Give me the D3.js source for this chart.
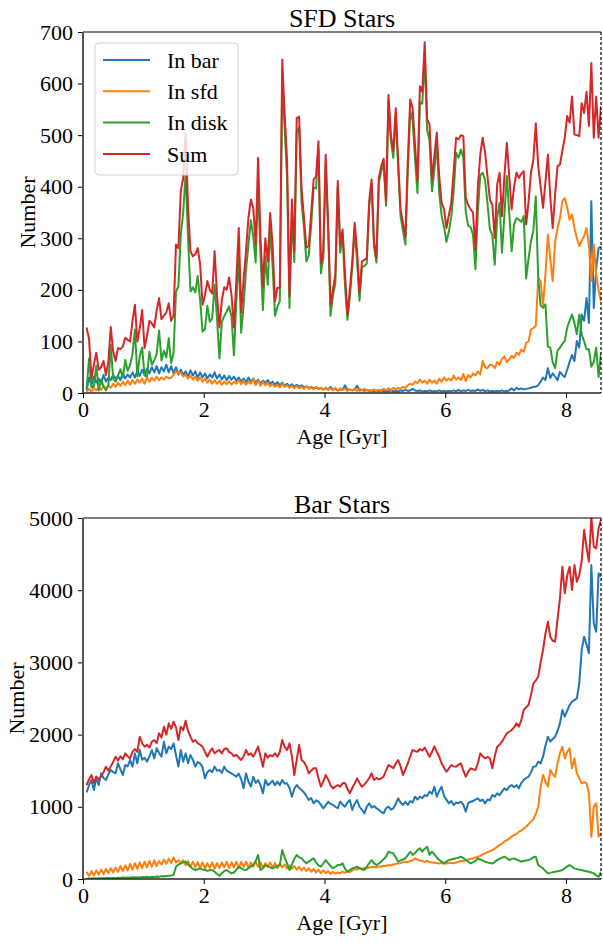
<!DOCTYPE html>
<html>
<head>
<meta charset="utf-8">
<script src="https://cdn.jsdelivr.net/npm/d3@7"></script>
<style>
  body { margin: 0; background: #fff; }
  svg text { font-family: "Liberation Serif", "Times New Roman", "DejaVu Serif", serif; fill: #000; }
</style>
</head>
<body>
<svg id="fig" width="603" height="943"></svg>
<script>
// Age bins (Gyr), 0.04 Gyr wide
const ageBins = d3.range(214).map(i => Math.round((0.06 + 0.04 * i) * 100) / 100);
const ageMax = 8.58;

const seriesNames = ["In bar", "In sfd", "In disk", "Sum"];
const seriesColors = ["#1f77b4", "#ff7f0e", "#2ca02c", "#d62728"];
const xTicks = [0, 2, 4, 6, 8];
const sfdYTicks = [0, 100, 200, 300, 400, 500, 600, 700];
const barYTicks = [0, 1000, 2000, 3000, 4000, 5000];

// ---- SFD stars: counts per age bin ----
const sfdInBar = [
  5,30,15,32,20,28,18,35,22,30,
  25,35,28,33,25,38,28,36,30,40,
  30,42,33,45,35,48,38,50,40,52,
  38,50,42,55,40,52,38,50,36,45,
  35,42,32,44,34,42,30,40,30,38,
  28,36,30,40,28,36,26,34,25,33,
  26,32,24,30,22,28,20,30,22,28,
  20,26,18,24,20,25,18,22,16,21,
  15,20,14,18,13,17,12,16,12,15,
  11,13,10,12,9,11,8,10,7,9,
  7,12,6,8,5,7,6,15,6,7,
  5,7,14,5,6,4,6,4,5,3,
  5,3,5,3,4,3,5,3,4,3,
  5,4,6,4,5,8,5,4,5,3,
  4,3,5,3,4,3,5,3,4,3,
  4,3,5,3,6,3,5,4,6,4,
  5,4,7,4,6,3,5,3,4,3,
  4,3,5,3,4,5,9,5,10,7,
  9,7,8,9,10,12,12,15,22,30,
  25,48,29,38,32,25,41,35,31,45,
  60,74,62,101,88,152,140,184,136,372,
  165,240,281,284
];
const sfdInSfd = [
  2,8,3,10,5,12,6,14,8,15,
  10,18,12,20,14,22,15,24,16,25,
  18,26,20,28,18,30,22,30,24,32,
  25,30,26,32,28,30,35,42,38,40,
  32,36,28,34,26,32,24,30,22,28,
  20,26,18,25,18,24,16,22,17,23,
  16,22,18,25,17,24,16,22,18,28,
  15,24,14,22,15,20,13,18,12,16,
  11,18,12,15,10,14,9,13,9,12,
  8,14,8,11,7,12,7,10,6,11,
  6,9,5,10,5,9,6,8,4,7,
  5,8,4,9,5,8,5,6,4,7,
  4,6,5,8,5,9,6,10,7,10,
  8,12,10,15,18,16,22,19,26,20,
  24,18,26,20,24,18,28,22,30,24,
  28,24,34,26,30,25,37,23,35,30,
  38,34,42,36,62,50,48,55,54,48,
  60,55,66,71,60,65,72,68,78,74,
  84,80,97,100,123,126,130,223,217,171,
  230,307,260,217,294,320,339,372,378,360,
  336,346,320,300,285,295,304,320,285,217,
  288,230,200,178
];
const sfdInDisk = [
  8,67,11,13,53,5,26,13,5,15,
  93,27,22,34,46,30,64,43,54,75,
  123,32,72,88,34,32,80,55,63,76,
  121,63,82,69,106,58,77,196,207,307,
  350,426,300,197,205,195,227,180,119,124,
  169,138,145,210,144,67,138,149,158,168,
  148,73,178,265,117,168,239,288,335,303,
  253,406,268,161,265,210,318,248,150,167,
  178,608,514,419,165,344,254,504,515,370,
  321,255,267,327,398,397,473,232,262,442,
  317,150,189,212,401,272,305,207,142,186,
  245,315,257,179,244,246,251,362,405,284,
  253,408,430,443,363,566,489,456,541,437,
  343,314,288,431,546,528,453,388,564,561,
  652,510,490,391,432,484,387,344,322,293,
  313,342,391,466,456,472,456,351,324,322,
  307,240,351,422,427,413,367,317,307,249,
  340,369,272,346,421,350,275,327,339,336,
  332,343,222,261,294,315,381,223,170,165,
  172,90,88,60,48,82,88,95,101,127,
  140,152,136,114,152,114,100,85,85,51,
  60,88,31,78
];
const sfdSum = [
  127,105,29,55,78,45,50,62,35,60,
  128,80,62,87,85,90,107,103,100,140,
  171,100,125,161,87,110,140,135,127,160,
  184,143,150,156,174,140,150,288,281,392,
  417,504,360,275,265,269,281,250,171,190,
  217,200,193,275,190,127,180,205,200,224,
  190,127,220,320,156,220,275,340,375,359,
  288,456,300,207,300,255,349,288,178,204,
  204,646,540,452,188,375,275,533,536,397,
  340,282,285,350,414,420,488,252,275,462,
  330,171,200,230,411,288,317,230,152,200,
  255,330,275,193,255,258,262,372,414,294,
  262,417,440,454,372,578,500,469,552,450,
  356,330,304,450,569,552,480,411,595,584,
  680,531,521,414,460,505,420,369,356,320,
  345,369,430,495,492,500,498,378,365,356,
  350,278,400,462,495,466,420,375,365,300,
  404,427,343,420,485,420,356,400,427,417,
  425,430,327,370,427,453,523,440,400,359,
  410,462,380,320,385,440,443,470,495,537,
  524,575,501,500,498,562,543,584,518,640,
  495,575,495,556
];

// ---- Bar stars: counts per age bin ----
const barInBar = [
  1200,1300,1371,1233,1394,1302,1463,1400,1371,1450,
  1510,1480,1463,1602,1520,1440,1579,1560,1648,1556,
  1740,1600,1790,1650,1680,1625,1700,1786,1671,1810,
  1750,1694,1902,1740,1833,1800,1879,1717,1556,1786,
  1625,1740,1602,1717,1650,1556,1620,1602,1550,1394,
  1480,1510,1480,1556,1500,1510,1470,1556,1500,1480,
  1463,1440,1417,1460,1380,1256,1463,1350,1279,1417,
  1330,1371,1300,1187,1371,1300,1325,1360,1300,1348,
  1300,1371,1320,1325,1260,1140,1250,1302,1260,1233,
  1200,1150,1094,1120,1048,1090,1071,1030,979,1020,
  1071,1040,1025,1000,980,1071,1030,1002,1060,1094,
  956,1040,1094,1000,960,910,1000,1048,990,1010,
  979,960,930,910,980,1002,960,979,1040,1117,
  1060,1025,1070,1025,1080,1060,1140,1100,1140,1120,
  1163,1150,1210,1180,1279,1140,1220,1279,1150,1100,
  1048,1080,1025,1060,1050,1071,1030,933,1050,1071,
  1080,1100,1117,1080,1100,1048,1100,1090,1163,1140,
  1187,1160,1210,1256,1230,1280,1302,1270,1300,1256,
  1330,1371,1400,1417,1480,1556,1560,1625,1600,1694,
  1850,1971,1902,1940,1971,2050,2156,2341,2248,2330,
  2410,2456,2480,2502,2710,3172,3356,3250,3126,4349,
  3541,3426,4234,4187
];
const barInSfd = [
  100,40,110,50,120,60,130,70,140,80,
  150,90,160,100,180,110,190,120,210,130,
  220,140,230,150,240,160,250,170,260,180,
  250,200,270,210,280,220,300,230,260,220,
  260,190,250,170,240,160,235,150,230,140,
  220,150,230,140,220,150,230,160,240,150,
  230,160,240,150,235,170,240,160,230,170,
  240,170,230,160,220,170,230,160,220,150,
  210,160,200,150,190,140,180,130,170,120,
  160,110,150,100,140,90,130,80,120,80,
  110,70,100,75,90,80,100,85,110,95,
  120,140,130,150,140,155,150,160,165,170,
  160,175,170,185,180,195,190,200,210,215,
  220,230,240,235,250,260,286,270,255,250,
  240,250,235,230,225,220,216,220,215,216,
  220,225,216,230,240,250,245,263,270,280,
  285,300,309,320,340,355,370,385,401,420,
  445,470,490,520,540,560,590,609,625,655,
  670,700,724,760,794,830,900,1000,1279,1440,
  1350,1279,1510,1450,1417,1602,1740,1833,1671,1760,
  1810,1533,1671,1463,1400,1325,1340,1325,1187,586,
  1002,1048,586,632
];
const barInDisk = [
  5,8,6,10,8,12,10,12,10,14,
  12,15,12,18,15,20,16,22,18,24,
  20,25,22,28,24,30,26,32,28,35,
  30,40,35,42,45,50,60,170,200,216,
  230,240,200,170,140,124,135,147,130,124,
  115,120,124,100,70,46,80,110,124,100,
  78,90,130,170,150,130,124,150,175,193,
  250,332,124,150,193,175,160,147,165,180,
  193,401,300,216,124,200,280,332,300,286,
  250,216,240,265,286,230,190,170,215,263,
  220,180,147,170,193,193,216,140,101,125,
  147,155,170,150,135,124,170,220,263,220,
  193,215,240,275,309,378,365,355,300,240,
  255,270,286,330,378,332,360,400,424,378,
  420,447,332,378,340,300,263,240,216,240,
  263,270,280,286,295,309,290,263,240,216,
  230,250,286,270,255,240,230,220,216,235,
  263,280,295,309,290,263,275,286,270,255,
  240,250,255,263,280,300,309,193,170,147,
  110,78,85,95,101,108,115,124,150,175,
  193,170,147,140,130,124,115,108,101,90,
  78,50,32,101
];
const barSum = [
  1302,1380,1440,1330,1420,1380,1417,1480,1556,1500,
  1560,1620,1694,1640,1700,1660,1740,1700,1671,1760,
  1800,1760,1971,1880,1833,1860,1820,1900,1925,1880,
  2018,1960,2110,2000,2156,2080,2179,2100,1925,2110,
  2060,2192,2050,1971,1900,1925,1880,1860,1833,1760,
  1694,1760,1810,1740,1770,1786,1740,1800,1810,1760,
  1740,1700,1720,1680,1648,1700,1786,1720,1740,1694,
  1760,1833,1700,1556,1740,1680,1717,1700,1740,1694,
  1760,1925,1830,1786,1879,1700,1440,1650,1856,1648,
  1620,1560,1463,1500,1533,1533,1400,1279,1350,1440,
  1380,1300,1256,1280,1302,1279,1325,1330,1250,1187,
  1260,1325,1394,1330,1279,1310,1348,1400,1463,1371,
  1400,1380,1394,1420,1500,1579,1560,1533,1600,1648,
  1560,1440,1520,1602,1700,1787,1770,1763,1800,1780,
  1820,1760,1694,1760,1836,1760,1694,1600,1540,1486,
  1530,1579,1560,1556,1580,1602,1500,1417,1480,1533,
  1520,1510,1600,1740,1700,1671,1690,1671,1533,1700,
  1833,1860,1902,1960,2018,2040,2064,2100,2156,2110,
  2200,2341,2380,2410,2550,2710,2750,2802,3000,3172,
  3400,3564,3356,3300,3287,3600,3888,4326,3957,4200,
  4326,4003,4349,4118,4210,4400,4834,4600,4395,5018,
  4603,4580,4857,4972
];

const svg = d3.select("#fig");
const plotLeft = 83, plotRight = 601;
const fontSize = 22;
const titleSize = 26;
const serifStack = '"Liberation Serif", "Times New Roman", "DejaVu Serif", serif';

function addText(sel) {
  return sel.append("text").attr("font-family", serifStack).style("font-family", serifStack);
}

function drawPanel(cfg) {
  const x = d3.scaleLinear().domain([0, ageMax]).range([plotLeft, plotRight]);
  const y = d3.scaleLinear().domain([0, cfg.ymax]).range([cfg.bottom, cfg.top]);
  const g = svg.append("g");

  g.append("clipPath").attr("id", cfg.id + "-clip")
    .append("rect")
    .attr("x", plotLeft).attr("y", cfg.top)
    .attr("width", plotRight - plotLeft).attr("height", cfg.bottom - cfg.top);

  const line = d3.line()
    .x((d, i) => x(ageBins[i]))
    .y(d => y(d));

  const lines = g.append("g").attr("clip-path", `url(#${cfg.id}-clip)`);
  cfg.series.forEach((s, k) => {
    lines.append("path")
      .datum(s)
      .attr("d", line)
      .attr("fill", "none")
      .attr("stroke", seriesColors[k])
      .attr("stroke-width", 2)
      .attr("stroke-linejoin", "round");
  });

  // axes
  const xAxis = g.append("g")
    .attr("transform", `translate(0,${cfg.bottom})`)
    .call(d3.axisBottom(x).tickValues(xTicks).tickFormat(d3.format("d"))
      .tickSize(5).tickPadding(3).tickSizeOuter(0));
  const yAxis = g.append("g")
    .attr("transform", `translate(${plotLeft},0)`)
    .call(d3.axisLeft(y).tickValues(cfg.yticks).tickFormat(d3.format("d"))
      .tickSize(5).tickPadding(5).tickSizeOuter(0));
  [xAxis, yAxis].forEach(a => {
    a.attr("font-family", serifStack).style("font-family", serifStack);
    a.select(".domain").remove();
    a.selectAll("text").attr("font-size", fontSize)
      .style("font-family", serifStack);
    a.selectAll("line").attr("stroke", "#000").attr("stroke-width", 1);
  });

  // spines
  g.append("line").attr("x1", plotLeft).attr("x2", plotRight)
    .attr("y1", cfg.top).attr("y2", cfg.top).attr("stroke", "#000").attr("stroke-width", 1.2);
  g.append("line").attr("x1", plotLeft).attr("x2", plotRight)
    .attr("y1", cfg.bottom).attr("y2", cfg.bottom).attr("stroke", "#222").attr("stroke-width", 1.4);
  g.append("line").attr("x1", plotLeft).attr("x2", plotLeft)
    .attr("y1", cfg.top).attr("y2", cfg.bottom).attr("stroke", "#555").attr("stroke-width", 2);
  // present-day marker
  g.append("line").attr("x1", x(ageMax)).attr("x2", x(ageMax))
    .attr("y1", cfg.top).attr("y2", cfg.bottom)
    .attr("stroke", "#000").attr("stroke-width", 1.2).attr("stroke-dasharray", "3,2");

  // labels
  addText(g).attr("x", (plotLeft + plotRight) / 2).attr("y", cfg.top - 5)
    .attr("text-anchor", "middle").attr("font-size", titleSize).text(cfg.title);
  addText(g).attr("x", (plotLeft + plotRight) / 2).attr("y", cfg.bottom + 51)
    .attr("text-anchor", "middle").attr("font-size", fontSize).text("Age [Gyr]");
  addText(g)
    .attr("transform", `translate(${cfg.ylabelX},${(cfg.top + cfg.bottom) / 2}) rotate(-90)`)
    .attr("text-anchor", "middle").attr("font-size", fontSize).text("Number");

  if (cfg.legend) {
    const lg = g.append("g");
    lg.append("rect").attr("x", 95).attr("y", 43).attr("width", 143).attr("height", 132)
      .attr("rx", 4).attr("fill", "#fff").attr("fill-opacity", 0.8)
      .attr("stroke", "#d4d4d4").attr("stroke-width", 1);
    seriesNames.forEach((name, k) => {
      const ly = 60 + k * 31.3;
      lg.append("line").attr("x1", 103).attr("x2", 150).attr("y1", ly).attr("y2", ly)
        .attr("stroke", seriesColors[k]).attr("stroke-width", 2);
      addText(lg).attr("x", 167).attr("y", ly).attr("dy", "0.35em")
        .attr("font-size", fontSize).text(name);
    });
  }
}

drawPanel({
  id: "sfd", title: "SFD Stars", top: 32, bottom: 393, ymax: 700,
  yticks: sfdYTicks, ylabelX: 35, legend: true,
  series: [sfdInBar, sfdInSfd, sfdInDisk, sfdSum]
});
drawPanel({
  id: "bar", title: "Bar Stars", top: 518, bottom: 879, ymax: 5000,
  yticks: barYTicks, ylabelX: 24, legend: false,
  series: [barInBar, barInSfd, barInDisk, barSum]
});
</script>
</body>
</html>
